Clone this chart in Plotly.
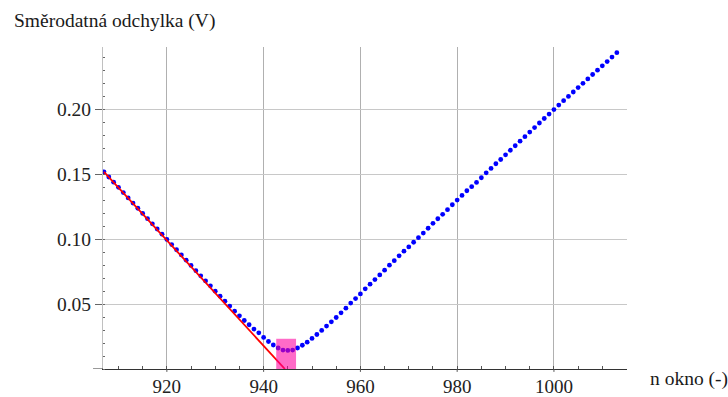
import plotly.graph_objects as go

# Blue series: window size n vs standard deviation (V)
n_okno = list(range(907, 1014))
odchylka = [
    0.1520, 0.1480, 0.1440, 0.1400, 0.1360, 0.1319, 0.1279, 0.1239, 0.1199, 0.1159,
    0.1119, 0.1079, 0.1039, 0.0999, 0.0959, 0.0919, 0.0879, 0.0839, 0.0798, 0.0758,
    0.0718, 0.0679, 0.0641, 0.0600, 0.0561, 0.0523, 0.0485, 0.0446, 0.0410, 0.0374,
    0.0341, 0.0308, 0.0279, 0.0243, 0.0212, 0.0185, 0.0162, 0.0146, 0.0143, 0.0146,
    0.0162, 0.0183, 0.0207, 0.0236, 0.0266, 0.0297, 0.0331, 0.0364, 0.0397, 0.0433,
    0.0469, 0.0508, 0.0543, 0.0579, 0.0618, 0.0654, 0.0689, 0.0725, 0.0762, 0.0800,
    0.0835, 0.0872, 0.0908, 0.0941, 0.0977, 0.1012, 0.1048, 0.1085, 0.1123, 0.1158,
    0.1192, 0.1228, 0.1266, 0.1302, 0.1338, 0.1374, 0.1405, 0.1438, 0.1474, 0.1512,
    0.1546, 0.1582, 0.1615, 0.1651, 0.1686, 0.1721, 0.1756, 0.1791, 0.1826, 0.1861,
    0.1896, 0.1931, 0.1965, 0.2000, 0.2034, 0.2068, 0.2101, 0.2135, 0.2169, 0.2202,
    0.2236, 0.2270, 0.2303, 0.2337, 0.2370, 0.2404, 0.2438,
]

# Red tangent line
primka_x = [907, 944.4]
primka_y = [0.152, 0.0]

# Highlighted minimum region
oblast_x = [942.6, 946.7]
oblast_y = [0.0, 0.0233]

x_ticks = [920, 940, 960, 980, 1000]
y_ticks = [0.05, 0.10, 0.15, 0.20]
y_tick_labels = ["0.05", "0.10", "0.15", "0.20"]

FONT = "Liberation Serif"

fig = go.Figure()
fig.add_trace(go.Scatter(
    x=n_okno, y=odchylka, mode="markers",
    marker=dict(color="#0000ff", size=4.8, line=dict(width=0)),
    showlegend=False, hoverinfo="x+y",
))
fig.add_trace(go.Scatter(
    x=primka_x, y=primka_y, mode="lines",
    line=dict(color="#ff0000", width=1.8),
    showlegend=False,
))

fig.add_shape(type="rect", xref="x", yref="y",
              x0=oblast_x[0], x1=oblast_x[1], y0=oblast_y[0], y1=oblast_y[1],
              fillcolor="rgba(255,0,160,0.58)", line=dict(width=0), layer="above")

# x-axis line extension to the left of the y-axis (Mathematica-style axes)
fig.add_shape(type="line", xref="paper", yref="y", x0=-0.019, x1=0, y0=0, y1=0,
              line=dict(color="#333333", width=1))
# short major tick stubs below the x-axis
for xv in x_ticks:
    fig.add_shape(type="line", xref="x", yref="paper", x0=xv, x1=xv, y0=-0.009, y1=0,
                  line=dict(color="#555555", width=1))

fig.add_annotation(text="Směrodatná odchylka (V)", xref="paper", yref="paper",
                   x=-0.1735, y=1.08, xanchor="left", yanchor="middle",
                   showarrow=False, font=dict(family=FONT, size=19.5, color="#1a1a1a"))
fig.add_annotation(text="n okno (-)", xref="paper", yref="paper",
                   x=1.04, y=-0.03, xanchor="left", yanchor="middle",
                   showarrow=False, font=dict(family=FONT, size=19.5, color="#1a1a1a"))

fig.update_layout(
    width=728, height=397,
    margin=dict(l=103, r=101, t=47, b=28, autoexpand=False),
    paper_bgcolor="white", plot_bgcolor="white",
    font=dict(family=FONT, size=19.5, color="#222222"),
    xaxis=dict(
        range=[906.8, 1015.1], tickvals=x_ticks, ticktext=[str(v) for v in x_ticks],
        showgrid=True, gridcolor="#b0b0b0", gridwidth=1,
        showline=True, linecolor="#333333", linewidth=1,
        ticks="inside", ticklen=3, tickcolor="#555555",
        tickfont=dict(family=FONT, size=19, color="#222222"),
        minor=dict(dtick=5, tick0=905, ticks="inside", ticklen=3, tickcolor="#555555", showgrid=False),
        zeroline=False, fixedrange=True, automargin=False,
    ),
    yaxis=dict(
        range=[0, 0.2482], tickvals=y_ticks, ticktext=y_tick_labels,
        showgrid=True, gridcolor="#c8c8c8", gridwidth=1,
        showline=True, linecolor="#c0c0c0", linewidth=1,
        ticks="outside", ticklen=7, tickcolor="#666666",
        tickfont=dict(family=FONT, size=19.5, color="#222222"),
        minor=dict(dtick=0.01, tick0=0, ticks="inside", ticklen=2, tickcolor="#666666", showgrid=False),
        zeroline=False, fixedrange=True, automargin=False,
    ),
)

fig.write_html("out.html")
